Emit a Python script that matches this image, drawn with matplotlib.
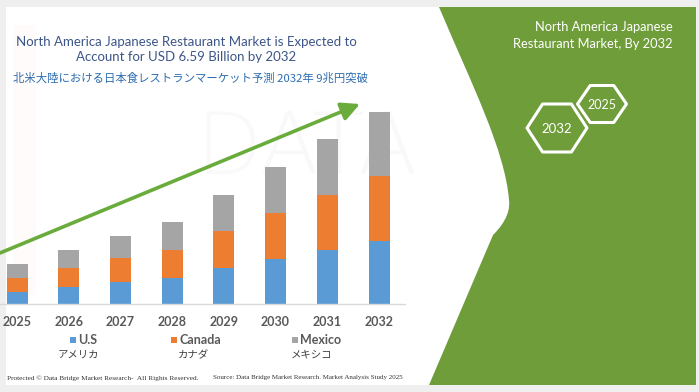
import numpy as np
import matplotlib
matplotlib.use("Agg")
import matplotlib.pyplot as plt
from matplotlib import patches
from matplotlib.path import Path

# data (USD billion)
years = ["2025", "2026", "2027", "2028", "2029", "2030", "2031", "2032"]
us = [0.41, 0.58, 0.76, 0.89, 1.24, 1.54, 1.85, 2.16]
canada = [0.48, 0.65, 0.82, 0.96, 1.27, 1.58, 1.89, 2.23]
mexico = [0.48, 0.62, 0.76, 0.96, 1.24, 1.58, 1.92, 2.20]
series_en = ["U.S", "Canada", "Mexico"]
series_jp = ["アメリカ", "カナダ", "メキシコ"]
colors = ["#5b9bd5", "#ed7d31", "#a5a5a5"]

title_en = "North America Japanese Restaurant Market is Expected to\nAccount for USD 6.59 Billion by 2032"
title_jp = "北米大陸における日本食レストランマーケット予測 2032年 9兆円突破"
panel_title = "North America Japanese\nRestaurant Market, By 2032"
hex_labels = ["2032", "2025"]

W, H = 699, 392
green = "#6f9d3a"
fig = plt.figure(figsize=(W / 100, H / 100), dpi=100)
fig.patch.set_facecolor("#efefef")

# background layer in pixel coords
bg = fig.add_axes([0, 0, 1, 1], zorder=0)
bg.set_xlim(0, W)
bg.set_ylim(H, 0)
bg.axis("off")
bg.add_patch(patches.Rectangle((6, 7), 690, 378, facecolor="white", edgecolor="none"))

# very faint watermark
bg.text(195, 150, "DATA", fontsize=62, color="#000000", alpha=0.025,
        va="center", ha="left", family="DejaVu Sans", fontweight="light")
bg.add_patch(patches.Rectangle((14, 25), 22, 270, facecolor="#ed7d31", alpha=0.025, edgecolor="none"))

# green panel
verts = [(439, 7), (472, 85), (505, 150), (509, 200),
         (511, 215), (500, 228), (493, 235),
         (429, 385), (696, 385), (696, 7), (439, 7)]
codes = [Path.MOVETO, Path.CURVE4, Path.CURVE4, Path.CURVE4,
         Path.CURVE4, Path.CURVE4, Path.CURVE4,
         Path.LINETO, Path.LINETO, Path.LINETO, Path.CLOSEPOLY]
bg.add_patch(patches.PathPatch(Path(verts, codes), facecolor=green, edgecolor="none", zorder=3))


def hexagon(ax, cx, cy, w, h, label, fs):
    t = 0.26 * w
    pts = [(cx - w / 2, cy), (cx - w / 2 + t, cy - h / 2), (cx + w / 2 - t, cy - h / 2),
           (cx + w / 2, cy), (cx + w / 2 - t, cy + h / 2), (cx - w / 2 + t, cy + h / 2)]
    ax.add_patch(patches.Polygon(pts, closed=True, facecolor="none", edgecolor="white",
                                 linewidth=2.2, joinstyle="round", zorder=4))
    ax.text(cx, cy + 1, label, color="white", fontsize=fs, ha="center", va="center",
            family="Lato", zorder=5)


hexagon(bg, 557, 128, 60, 48, hex_labels[0], 9.5)
hexagon(bg, 602, 104, 49, 37, hex_labels[1], 9)

bg.text(673, 35, panel_title, color="white", fontsize=9.3, ha="right", va="center",
        family="Lato", linespacing=1.5, zorder=5)

# titles
bg.text(186, 49, title_en, color="#3d5688", fontsize=9.5, ha="center", va="center",
        family="Lato", linespacing=1.3)
bg.text(13, 78, title_jp, color="#2e6db0", fontsize=8.2, ha="left", va="center",
        family=["Noto Sans CJK JP", "DejaVu Sans"])

# bar chart axes: bar centres 17px..379px, baseline at 304px
step = (379 - 17) / 7
x0 = (0 - 17) / step
x1 = (405 - 17) / step
top_px, base_px = 100, 304
ymax = 7.0
ax = fig.add_axes([0, (H - base_px) / H, 405 / W, (base_px - top_px) / H], zorder=1)
ax.patch.set_alpha(0)
x = np.arange(len(years))
bw = 21 / step
bottom = np.zeros(len(years))
for vals, c in zip([us, canada, mexico], colors):
    ax.bar(x, vals, bw, bottom=bottom, color=c, edgecolor="none")
    bottom += np.array(vals)
ax.set_xlim(x0, x1)
ax.set_ylim(0, ymax)
for s in ["top", "right", "left"]:
    ax.spines[s].set_visible(False)
ax.spines["bottom"].set_color("#d9d9d9")
ax.spines["bottom"].set_linewidth(1)
ax.set_yticks([])
ax.set_xticks(x)
ax.set_xticklabels(years, fontsize=9, fontweight="bold", color="#595959", family="Lato")
ax.tick_params(axis="x", length=0, pad=9)

# overlay for arrow, legend, footer
ov = fig.add_axes([0, 0, 1, 1], zorder=2)
ov.set_xlim(0, W)
ov.set_ylim(H, 0)
ov.axis("off")
ov.annotate("", xy=(360, 104), xytext=(0, 253),
            arrowprops=dict(arrowstyle="-|>,head_length=1.1,head_width=0.55",
                            color="#6aac3c", lw=2.6, shrinkA=0, shrinkB=0))

leg_x = [70, 171, 292]
jp_x = [78, 193, 312]
for lx, jx, en, jp, c in zip(leg_x, jp_x, series_en, series_jp, colors):
    ov.add_patch(patches.Rectangle((lx, 337), 6, 6, facecolor=c, edgecolor="none"))
    ov.text(lx + 8, 340, en, fontsize=9, fontweight="bold", color="#595959",
            ha="left", va="center", family="Lato")
    ov.text(jx, 355, jp, fontsize=7.5, color="#404040", ha="center", va="center",
            family=["Noto Sans CJK JP", "DejaVu Sans"])

ov.text(7, 378, "Protected \u00a9 Data Bridge Market Research-  All Rights Reserved.",
        fontsize=5.2, color="#333333", ha="left", va="center", family="Liberation Serif")
ov.text(213, 378, "Source: Data Bridge Market Research. Market Analysis Study 2025",
        fontsize=5.0, color="#333333", ha="left", va="center", family="Liberation Serif")

fig.savefig("out.png", dpi=100)
